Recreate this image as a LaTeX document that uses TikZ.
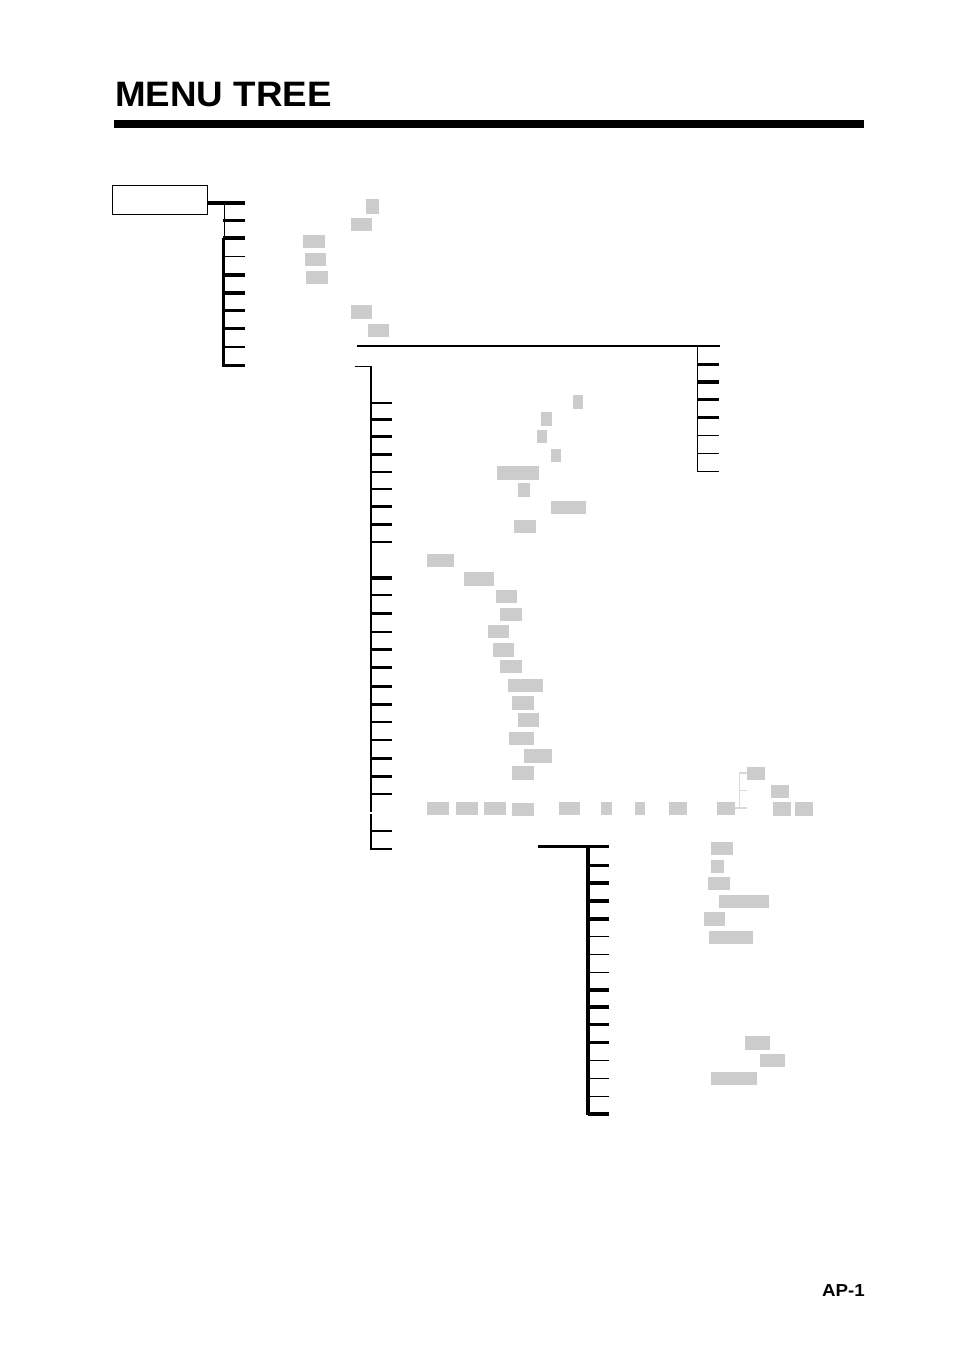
\documentclass[tikz,border=0pt]{standalone}
\usepackage{fontspec}
\newfontfamily\headfont{Liberation Sans}
\definecolor{hlgray}{HTML}{CCCCCC}
\definecolor{linkgray}{HTML}{D9D9D9}
\tikzset{
  thickbr/.style={line width=2.4pt},
  thinbr/.style={line width=1.1pt},
  trunk/.style={line width=1.4pt},
  hlbox/.style={fill=hlgray},
  rootbox/.style={draw, line width=1pt, minimum width=71.25pt, minimum height=21.75pt, inner sep=0pt},
}

\begin{document}
\begin{tikzpicture}[x=0.75pt, y=-0.75pt]
\useasboundingbox (0,0) rectangle (954,1349);

% Heading and rule
\node[anchor=base west, inner sep=0pt] (title) at (115,106)
  {\headfont\bfseries\fontsize{26.5}{30}\selectfont\scalebox{1.04}[1]{MENU TREE}};
\fill (114,119.5) rectangle (864,128);

% Root box
\node[rootbox, anchor=north west] (root) at (112,184.5) {};
\coordinate (top) at (245,203);
\draw[thickbr] (root.east |- top) -- (top);

% First level
\draw[thinbr] (224.7,203) -- (224.7,239);
\draw[thickbr] (223.7,238) -- (223.7,366.5);
\foreach \y/\w in {220.7/thickbr, 238/thickbr, 256.3/thinbr, 275/thickbr,
                   293/thickbr, 310.7/thickbr, 328.7/thickbr, 347/thinbr, 365.3/thickbr}
  \draw[\w] (223,\y) -- (245,\y);

% Long link and right column
\coordinate (rtop) at (697.3,346);
\draw[thinbr] (357,346) -- (720,346);
\draw[thinbr] (rtop) -- (697.3,471.8);
\foreach \y/\w in {364.7/thickbr, 382/thickbr, 399.7/thickbr, 417.7/thickbr,
                   435.3/thinbr, 453.7/thinbr, 471.3/thinbr}
  \draw[\w] (697,\y) -- (719,\y);

% Second level
\coordinate (ctop) at (370.7,366.5);
\draw[trunk] (355,366.5) -- (ctop) -- (370.7,811.5);
\draw[trunk] (370.7,814) -- (370.7,849.5);
\foreach \y/\w in {403/thinbr, 419.7/thickbr, 436.7/thickbr, 454.7/thickbr,
                   472/thinbr, 489/thinbr, 506.7/thickbr, 524.7/thickbr, 542/thinbr,
                   578/thickbr, 595/thinbr, 613.7/thickbr, 632/thinbr, 649.7/thickbr,
                   667.7/thickbr, 686.7/thickbr, 704.7/thickbr, 722/thinbr, 740/thinbr,
                   758.7/thickbr, 776.7/thickbr, 794/thinbr, 831/thinbr, 849/thinbr}
  \draw[\w] (370,\y) -- (392,\y);

% Third level
\coordinate (dtop) at (588,846.7);
\draw[thickbr] (538,846.7) -- (609,846.7);
\draw[thickbr] (dtop) -- (588,1115);
\foreach \y/\w in {865.7/thickbr, 883/thickbr, 901/thickbr, 919/thickbr,
                   936.3/thinbr, 954.3/thinbr, 972.3/thinbr, 990/thickbr, 1007/thickbr,
                   1024.7/thickbr, 1042.7/thickbr, 1060.3/thinbr, 1078.3/thinbr,
                   1096.3/thinbr, 1114/thickbr}
  \draw[\w] (588,\y) -- (609,\y);

% Faint fork
\draw[linkgray, line width=0.8pt] (739.3,773) -- (739.3,808);
\draw[linkgray, line width=0.8pt] (739.3,773) -- (747,773);
\draw[linkgray, line width=0.8pt] (739.3,790.3) -- (747,790.3);
\draw[linkgray, line width=0.8pt] (735,808) -- (747,808);

% Highlights
\foreach \xa/\ya/\xb/\yb in {366/199/378.5/213.5, 351/218/372/230.5, 303/235/325/247.5,
    305/253/326/265.5, 306/271/328/283.5, 351/305/372/318.5, 368/324/389/336.5,
    573/395/583/409, 541/412/552/426, 537/430/547/443, 551/449/561/462,
    497/466/539/480, 518/483/530/497, 551/501/586/514, 514/520/536/533,
    427/554/454/567, 464/572/494/586, 496/590/517/603, 500/608/522/621,
    488/625/509/638, 493/643/514/657, 500/660/522/673, 508/679/543/692,
    512/696/534/710, 518/713/539/727, 509/732/534/745, 524/749/552/763,
    512/766/534/780,
    427/802/449/815, 456/802/478/815, 484/802/506/815, 512/803/534/816,
    559/802/580/815, 601/802/612/815, 635/802/645/815, 669/802/687/815,
    717/802/735/815, 747/767/765/780, 771/785/789/798, 773/802/791/816,
    795/802/813/816,
    711/842/733/855, 711/860/724/873, 708/877/730/890, 719/895/769/908,
    704/912/725/926, 709/931/753/944, 745/1036/770/1050, 760/1054/785/1067,
    711/1072/757/1085}
  \fill[hlbox] (\xa,\ya) rectangle (\xb,\yb);

% Page number
\node[anchor=base east, inner sep=0pt] (page) at (865,1296)
  {\headfont\bfseries\fontsize{13}{15}\selectfont\scalebox{1.08}[1]{AP-1}};

\end{tikzpicture}
\end{document}
